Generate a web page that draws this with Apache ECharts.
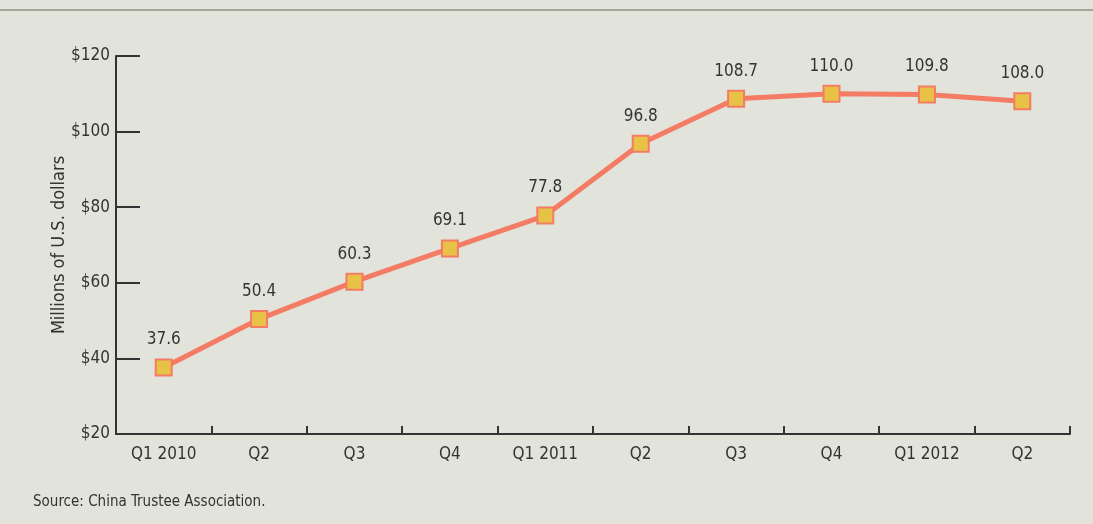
<!DOCTYPE html>
<html>
<head>
<meta charset="utf-8">
<script src="https://cdn.jsdelivr.net/npm/echarts@6/dist/echarts.min.js"></script>
<style>
  html, body { margin: 0; padding: 0; background: #e2e4dc; }
  #main { width: 1093px; height: 524px; }
</style>
</head>
<body>
<div id="main"></div>
<script>
var myChart = echarts.init(document.getElementById('main'));

var quarters = ['Q1 2010', 'Q2', 'Q3', 'Q4', 'Q1 2011', 'Q2', 'Q3', 'Q4', 'Q1 2012', 'Q2'];
var assets = [37.6, 50.4, 60.3, 69.1, 77.8, 96.8, 108.7, 110.0, 109.8, 108.0];

var font = '"Liberation Sans Narrow", "DejaVu Sans Condensed", sans-serif';
var ink = '#333333';

option = {
    backgroundColor: '#e2e4dc',
    animation: false,
    textStyle: { fontFamily: font },
    grid: { left: 116, right: 23, top: 56, bottom: 90 },
    graphic: [
        { type: 'line', shape: { x1: 0, y1: 10, x2: 1093, y2: 10 },
          style: { stroke: '#a3a696', lineWidth: 2 } },
        { type: 'text', left: 33, top: 495,
          style: { text: 'Source: China Trustee Association.', fill: ink,
                   font: '15px ' + font } }
    ],
    xAxis: {
        type: 'category',
        data: quarters,
        boundaryGap: true,
        axisLine: { lineStyle: { color: '#333', width: 2 } },
        axisTick: { show: true, inside: true, length: 8, interval: 0,
                    lineStyle: { color: '#333', width: 2 } },
        axisLabel: { color: ink, fontSize: 17, margin: 12, fontFamily: font }
    },
    yAxis: {
        type: 'value',
        min: 20,
        max: 120,
        interval: 20,
        name: 'Millions of U.S. dollars',
        nameLocation: 'middle',
        nameGap: 48,
        nameMoveOverlap: false,
        nameRotate: 90,
        nameTextStyle: { color: ink, fontSize: 18, fontFamily: font },
        splitLine: { show: false },
        axisLine: { show: true, lineStyle: { color: '#333', width: 2 } },
        axisTick: { show: true, inside: true, length: 24, lineStyle: { color: '#333', width: 2 } },
        axisLabel: { color: ink, fontSize: 17, margin: 6, fontFamily: font,
                     formatter: '${value}' }
    },
    series: [{
        type: 'line',
        data: assets,
        symbol: 'rect',
        symbolSize: 16,
        lineStyle: { color: '#f47b64', width: 5 },
        itemStyle: { color: '#e8c246', borderColor: '#f47b64', borderWidth: 2 },
        label: {
            show: true,
            position: 'top',
            distance: 10,
            color: ink,
            fontSize: 17,
            fontFamily: font,
            formatter: function (p) { return p.value.toFixed(1); }
        }
    }]
};

myChart.setOption(option);
</script>
</body>
</html>
